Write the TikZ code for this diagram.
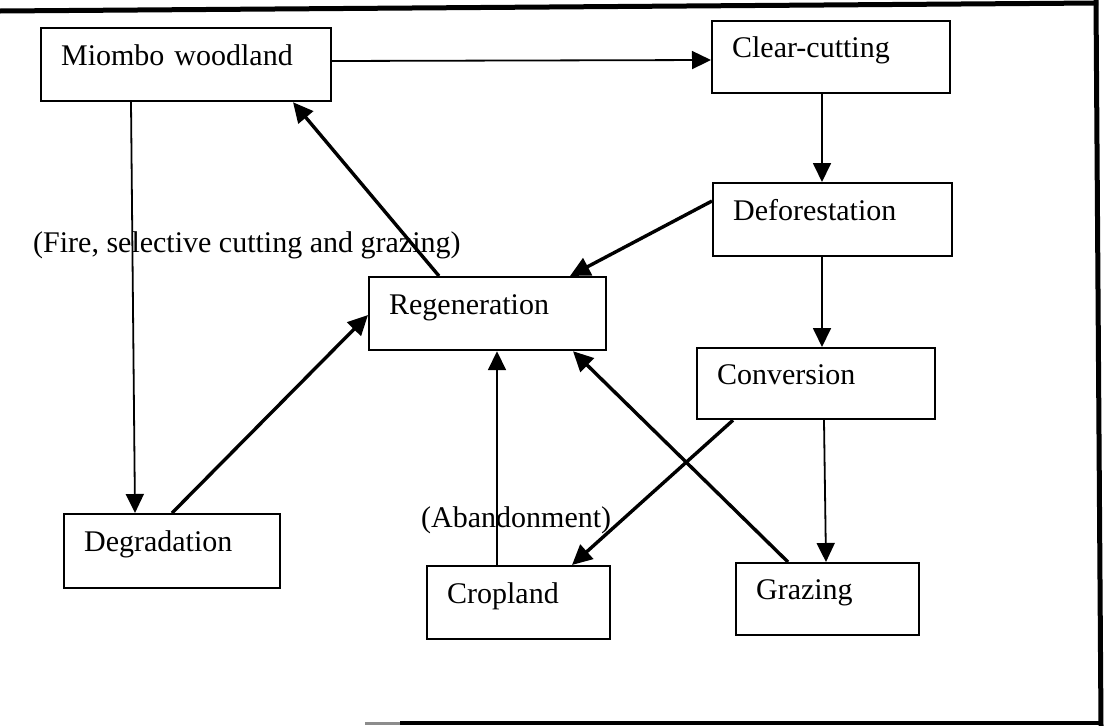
\documentclass[tikz,border=0pt]{standalone}
\usepackage{fontspec}
\setmainfont{Liberation Serif}
\usetikzlibrary{arrows.meta}
\begin{document}
\begin{tikzpicture}[x=1pt,y=-1pt,
  box/.style={draw, line width=2.2pt, anchor=north west, inner xsep=20pt, inner ysep=0pt,
    align=left, text height=22pt, text depth=21pt,
    font=\fontsize{30}{36}\selectfont},
  lbl/.style={anchor=base west, inner sep=0pt, font=\fontsize{30}{36}\selectfont},
  thin/.style={line width=1.8pt, -{Triangle[length=19pt,width=18pt]}},
  thick/.style={line width=3.4pt, -{Triangle[length=20pt,width=19pt]}},
  frame/.style={line width=5pt}]
\useasboundingbox (0,0) rectangle (1104,726);
% outer frame
\draw[frame] (0,11) -- (1098,3);
\draw[frame] (1096,0) -- (1101,726);
\draw[line width=4pt] (400,723) -- (1101,723);
\draw[line width=3pt, black!45] (365,723.5) -- (400,723.5);
% nodes
\node[box, text width=250pt, minimum height=73pt] (mw) at (40,27) {Miombo woodland};
\node[box, text width=198pt, minimum height=72pt] (cc) at (711,20) {Clear-cutting};
\node[box, text width=199pt, minimum height=73pt] (df) at (712,182) {Deforestation};
\node[box, text width=197pt, minimum height=73pt] (rg) at (368,276) {Regeneration};
\node[box, text width=198pt, minimum height=71pt] (cv) at (696,347) {Conversion};
\node[box, text width=143pt, minimum height=72pt] (gz) at (735,562) {Grazing};
\node[box, text width=143pt, minimum height=73pt] (cl) at (426,565) {Cropland};
\node[box, text width=176pt, minimum height=74pt] (dg) at (63,513) {Degradation};
% labels
\node[lbl] (fire) at (33,252) {(Fire, selective cutting and grazing)};
\node[lbl] (aband) at (421,527) {(Abandonment)};
% connectors
\draw[thin] ([yshift=-34pt]mw.north east) -- ([yshift=-40pt]cc.north west);
\draw[thin] ([xshift=91pt]mw.south west) -- ([xshift=72pt]dg.north west);
\draw[thick] ([xshift=71pt]rg.north west) -- ([xshift=253pt]mw.south west);
\draw[thick] ([yshift=-19pt]df.north west) -- ([xshift=202pt]rg.north west);
\draw[thin] ([xshift=111pt]cc.south west) -- ([xshift=110pt]df.north west);
\draw[thin] ([xshift=110pt]df.south west) -- ([xshift=126pt]cv.north west);
\draw[thin] ([xshift=128pt]cv.south west) -- ([xshift=91pt]gz.north west);
\draw[thick] ([xshift=37pt]cv.south west) -- ([xshift=146pt]cl.north west);
\draw[thick] ([xshift=53pt]gz.north west) -- ([xshift=205pt]rg.south west);
\draw[thin] ([xshift=71pt]cl.north west) -- ([xshift=129pt]rg.south west);
\draw[thick] ([xshift=109pt]dg.north west) -- ([yshift=-39pt]rg.north west);
\end{tikzpicture}
\end{document}
